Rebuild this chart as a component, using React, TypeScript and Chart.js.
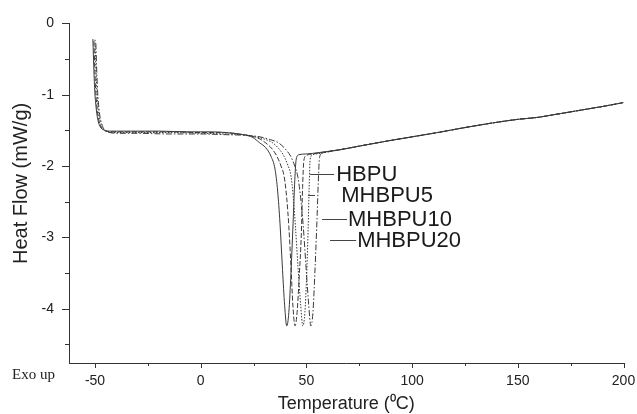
import React, { useEffect, useRef } from 'react';
import { Chart, registerables } from 'chart.js';
Chart.register(...registerables);

const seriesNames = ['HBPU', 'MHBPU5', 'MHBPU10', 'MHBPU20'];

const hbpuT = [-51, -50.7, -50.2, -49.4, -48.5, -47.5, -46, -43, -35, -20, -5, 5, 12, 20, 24.7, 27.7, 30.7, 33.2, 35.2, 36.4, 37.5, 38.7, 39.7, 40.7, 41.7, 42.7, 43.7, 44.5, 45.2, 46.5, 50, 56];
const hbpuY = [-0.22, -0.5, -0.9, -1.2, -1.37, -1.45, -1.49, -1.51, -1.51, -1.51, -1.52, -1.52, -1.53, -1.56, -1.6, -1.67, -1.74, -1.86, -2.05, -2.35, -2.8, -3.45, -3.95, -4.24, -4.05, -3.5, -2.8, -2.2, -1.9, -1.84, -1.83, -1.81];

const mhbpu5T = [-50.5, -50.2, -49.7, -48.9, -48, -47, -45.5, -42, -30, -15, 0, 10, 18, 24, 28, 30.5, 33.5, 36, 38, 39.5, 40.7, 41.7, 42.7, 43.6, 44.6, 45.6, 46.6, 47.6, 48.2, 48.8, 50, 53, 57];
const mhbpu5Y = [-0.25, -0.55, -0.92, -1.22, -1.38, -1.46, -1.5, -1.52, -1.52, -1.52, -1.53, -1.53, -1.55, -1.58, -1.62, -1.67, -1.75, -1.86, -2.0, -2.15, -2.45, -2.85, -3.4, -3.95, -4.24, -4.05, -3.55, -2.95, -2.3, -1.92, -1.85, -1.83, -1.81];

const mhbpu10T = [-50, -49.7, -49.2, -48.4, -47.5, -46.5, -45, -41, -30, -15, 0, 12, 20, 26, 30, 33.8, 36.5, 39, 41, 42.7, 43.7, 44.8, 46, 47.3, 48.3, 49.3, 50.1, 50.8, 51.3, 51.8, 53, 57];
const mhbpu10Y = [-0.23, -0.52, -0.9, -1.21, -1.38, -1.47, -1.51, -1.53, -1.53, -1.53, -1.54, -1.55, -1.56, -1.59, -1.62, -1.67, -1.74, -1.84, -1.97, -2.14, -2.4, -2.84, -3.4, -3.95, -4.24, -4.05, -3.55, -2.9, -2.3, -1.9, -1.84, -1.82];

const mhbpu20T = [-49.6, -49.3, -48.8, -48, -47, -46, -44.5, -40, -30, -15, 0, 12, 22, 28, 33, 36.6, 40, 42.5, 44.5, 46, 47.3, 48.5, 49.8, 51.1, 52.1, 53.1, 54, 54.9, 55.6, 56.2, 57.5];
const mhbpu20Y = [-0.28, -0.56, -0.93, -1.23, -1.39, -1.47, -1.51, -1.54, -1.54, -1.55, -1.55, -1.56, -1.57, -1.59, -1.63, -1.67, -1.76, -1.86, -2.0, -2.16, -2.45, -2.84, -3.4, -3.95, -4.24, -4.05, -3.5, -2.84, -2.25, -1.88, -1.82];

// shared post-melting baseline (all four curves coincide here)
const tailT = [66, 75, 88, 100, 112, 125, 137, 150, 160, 165, 180, 190, 200];
const tailY = [-1.77, -1.72, -1.65, -1.59, -1.53, -1.46, -1.4, -1.345, -1.315, -1.29, -1.215, -1.165, -1.11];

const xTicks = [-50, 0, 50, 100, 150, 200];
const xMinorTicks = [-25, 25, 75, 125, 175];
const yTicks = [0, -1, -2, -3, -4];
const yMinorTicks = [-0.5, -1.5, -2.5, -3.5, -4.5];

// curve labels (data coordinates)
const labelTextT = [64.1, 66.5, 69.7, 74.0];
const labelTextY = [-2.11, -2.41, -2.74, -3.04];
const leaderFromT = [51.7, 50.8, 57.4, 61.2];
const leaderToT = [63.1, 54.1, 69.2, 73.5];

const yTitle = 'Heat Flow (mW/g)';
const xTitle = 'Temperature (\u2070C)';

const seriesT = [hbpuT, mhbpu5T, mhbpu10T, mhbpu20T];
const seriesY = [hbpuY, mhbpu5Y, mhbpu10Y, mhbpu20Y];
const dashes = [[], [5, 2], [1.5, 1.5], [6, 2, 1.5, 2]];

const FONT = "'Liberation Sans', Arial, sans-serif";

const decor = {
  id: 'decor',
  afterDraw(chart: any) {
    const { ctx, chartArea } = chart;
    const x = chart.scales.x;
    const y = chart.scales.y;
    ctx.save();
    ctx.strokeStyle = '#333';
    ctx.lineWidth = 1;
    ctx.beginPath();
    xTicks.forEach((v) => {
      const px = Math.round(x.getPixelForValue(v)) + 0.5;
      ctx.moveTo(px, chartArea.bottom);
      ctx.lineTo(px, chartArea.bottom + 5);
    });
    xMinorTicks.forEach((v) => {
      const px = Math.round(x.getPixelForValue(v)) + 0.5;
      ctx.moveTo(px, chartArea.bottom);
      ctx.lineTo(px, chartArea.bottom + 3);
    });
    yTicks.forEach((v) => {
      const py = Math.round(y.getPixelForValue(v)) + 0.5;
      ctx.moveTo(chartArea.left, py);
      ctx.lineTo(chartArea.left - 7, py);
    });
    yMinorTicks.forEach((v) => {
      const py = Math.round(y.getPixelForValue(v)) + 0.5;
      ctx.moveTo(chartArea.left, py);
      ctx.lineTo(chartArea.left - 4, py);
    });
    ctx.stroke();

    // leaders
    ctx.strokeStyle = '#444';
    ctx.beginPath();
    seriesNames.forEach((_, i) => {
      const py = Math.round(y.getPixelForValue(labelTextY[i])) + 0.5;
      ctx.moveTo(x.getPixelForValue(leaderFromT[i]), py);
      ctx.lineTo(x.getPixelForValue(leaderToT[i]), py);
    });
    ctx.stroke();

    // labels
    ctx.fillStyle = '#1a1a1a';
    ctx.font = `22px ${FONT}`;
    ctx.textAlign = 'left';
    ctx.textBaseline = 'middle';
    seriesNames.forEach((name, i) => {
      ctx.fillText(name, x.getPixelForValue(labelTextT[i]), y.getPixelForValue(labelTextY[i]) + 1);
    });

    // y-axis title
    ctx.save();
    ctx.translate(21, chartArea.top + 160);
    ctx.rotate(-Math.PI / 2);
    ctx.textAlign = 'center';
    ctx.textBaseline = 'middle';
    ctx.font = `20px ${FONT}`;
    ctx.fillStyle = '#222';
    ctx.fillText(yTitle, 0, 0);
    ctx.restore();

    // Exo up
    ctx.font = "15px 'Liberation Serif', 'Times New Roman', serif";
    ctx.fillStyle = '#222';
    ctx.textAlign = 'left';
    ctx.textBaseline = 'middle';
    ctx.fillText('Exo up', 12, chartArea.bottom + 12);
    ctx.restore();
  },
};

export default function App() {
  const ref = useRef<HTMLCanvasElement>(null);
  useEffect(() => {
    if (!ref.current) return;
    const datasets = seriesNames.map((name, i) => ({
      label: name,
      data: seriesT[i].map((t, j) => ({ x: t, y: seriesY[i][j] })).concat(
        tailT.map((t, j) => ({ x: t, y: tailY[j] }))
      ),
      borderColor: '#3a3a3a',
      borderWidth: 1,
      borderDash: dashes[i],
      pointRadius: 0,
      fill: false,
      cubicInterpolationMode: 'monotone' as const,
    }));
    const chart = new Chart(ref.current, {
      type: 'line',
      data: { datasets },
      options: {
        animation: false,
        responsive: false,
        maintainAspectRatio: false,
        layout: { padding: { top: 22, right: 3, left: 0, bottom: 0 } },
        plugins: { legend: { display: false }, tooltip: { enabled: false } },
        scales: {
          x: {
            type: 'linear',
            min: -62.3,
            max: 200,
            afterBuildTicks: (s: any) => {
              s.ticks = xTicks.map((v) => ({ value: v }));
            },
            afterFit: (s: any) => {
              s.height = 51;
              s.paddingRight = 13.5;
              s.paddingLeft = 0;
            },
            grid: { display: false, drawTicks: false },
            border: { display: true, color: '#333', width: 1 },
            ticks: {
              padding: 10,
              color: '#222',
              font: { family: FONT, size: 14 },
              autoSkip: false,
              maxRotation: 0,
              callback: (v: any) => String(v),
            },
            title: {
              display: true,
              text: xTitle,
              color: '#222',
              font: { family: FONT, size: 18 },
              padding: { top: 0, bottom: -1 },
            },
          },
          y: {
            type: 'linear',
            min: -4.76,
            max: 0,
            afterBuildTicks: (s: any) => {
              s.ticks = yTicks.map((v) => ({ value: v }));
            },
            afterFit: (s: any) => {
              s.width = 69;
            },
            grid: { display: false, drawTicks: false },
            border: { display: true, color: '#333', width: 1 },
            ticks: {
              padding: 15,
              color: '#222',
              font: { family: FONT, size: 14 },
              autoSkip: false,
              callback: (v: any) => String(v),
            },
            title: { display: false },
          },
        },
      },
      plugins: [decor],
    });
    return () => chart.destroy();
  }, []);
  return (
    <div style={{ position: 'absolute', left: 0, top: 0, width: 637, height: 414, background: '#fff' }}>
      <canvas ref={ref} width={637} height={414} />
    </div>
  );
}
